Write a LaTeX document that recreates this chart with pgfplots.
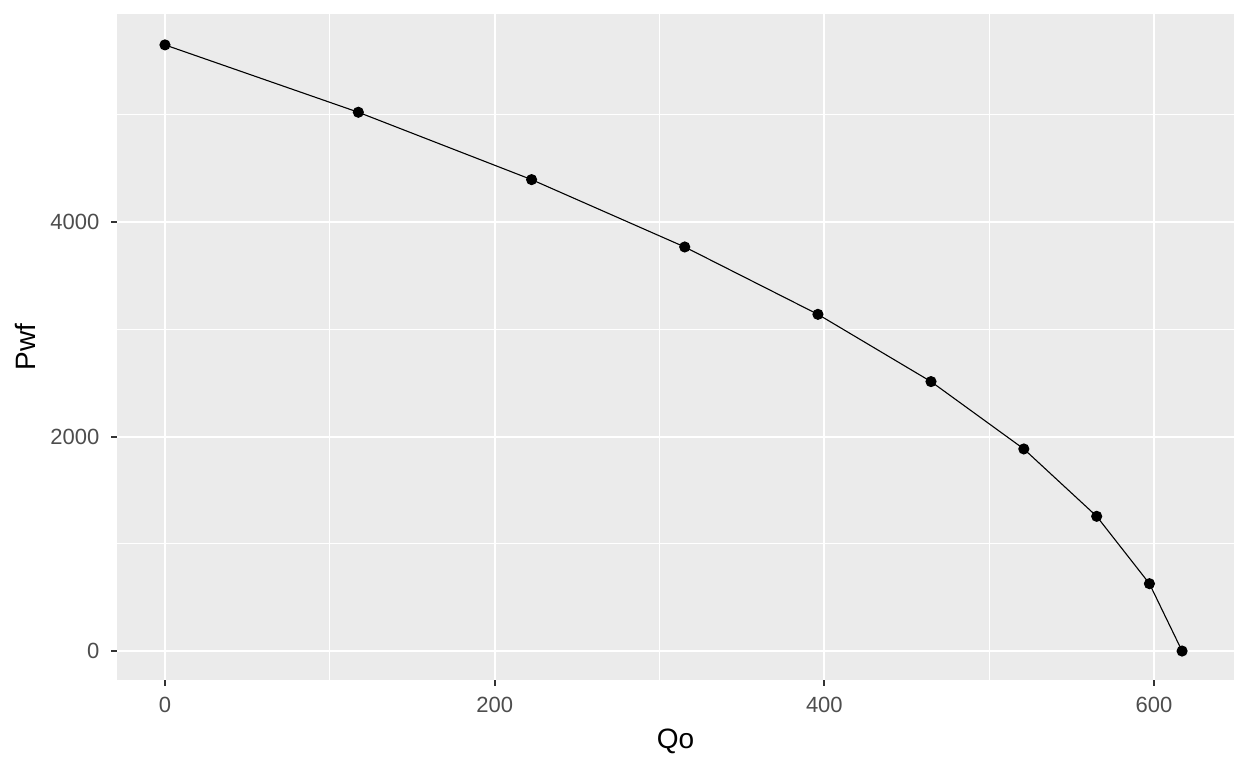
\documentclass[border=0pt]{standalone}
\usepackage{pgfplots}
\pgfplotsset{compat=1.18}
\usepackage{fontspec}
\setmainfont{Liberation Sans}
\definecolor{panelbg}{HTML}{EBEBEB}
\definecolor{tickgrey}{HTML}{333333}
\definecolor{labgrey}{HTML}{4D4D4D}
\begin{document}
\begin{tikzpicture}
\begin{axis}[
    at={(0,0)}, anchor=south west,
    width=558.5pt, height=333pt, scale only axis,
    xmin=-29.1, xmax=648.5,
    ymin=-270, ymax=5939,
    axis background/.style={fill=panelbg},
    axis line style={draw=none},
    xtick={0,200,400,600}, ytick={0,2000,4000},
    minor xtick={100,300,500}, minor ytick={1000,3000,5000},
    grid=both,
    major grid style={white, line width=1pt},
    minor grid style={white, line width=0.5pt},
    tick align=outside, tick pos=left,
    major tick length=2.75pt, minor tick length=0pt,
    major tick style={tickgrey, line width=1pt},
    tick label style={font=\fontsize{11}{13}\selectfont, text=labgrey},
    xticklabel style={yshift=-2.5pt},
    yticklabel style={xshift=-2.5pt},
    /pgf/number format/assume math mode=true,
    /pgf/number format/1000 sep={},
    xlabel={Qo}, ylabel={Pwf},
    label style={font=\fontsize{14}{16}\selectfont},
    xlabel style={at={(axis description cs:0.5,0)}, anchor=north, yshift=-21pt},
    ylabel style={at={(axis description cs:0,0.5)}, anchor=south, yshift=37pt},
]
\addplot[black, line width=0.55pt, mark=*, mark size=2.5pt] coordinates {
(0,5651) (117.3,5023) (222.4,4395) (315.3,3767) (396.1,3139)
(464.7,2512) (521.0,1884) (565.2,1256) (597.2,628) (617.0,0)
};
\end{axis}
\pgfresetboundingbox
\path[use as bounding box] (-58.5pt,-44pt) rectangle (565.5pt,340pt);
\end{tikzpicture}
\end{document}
